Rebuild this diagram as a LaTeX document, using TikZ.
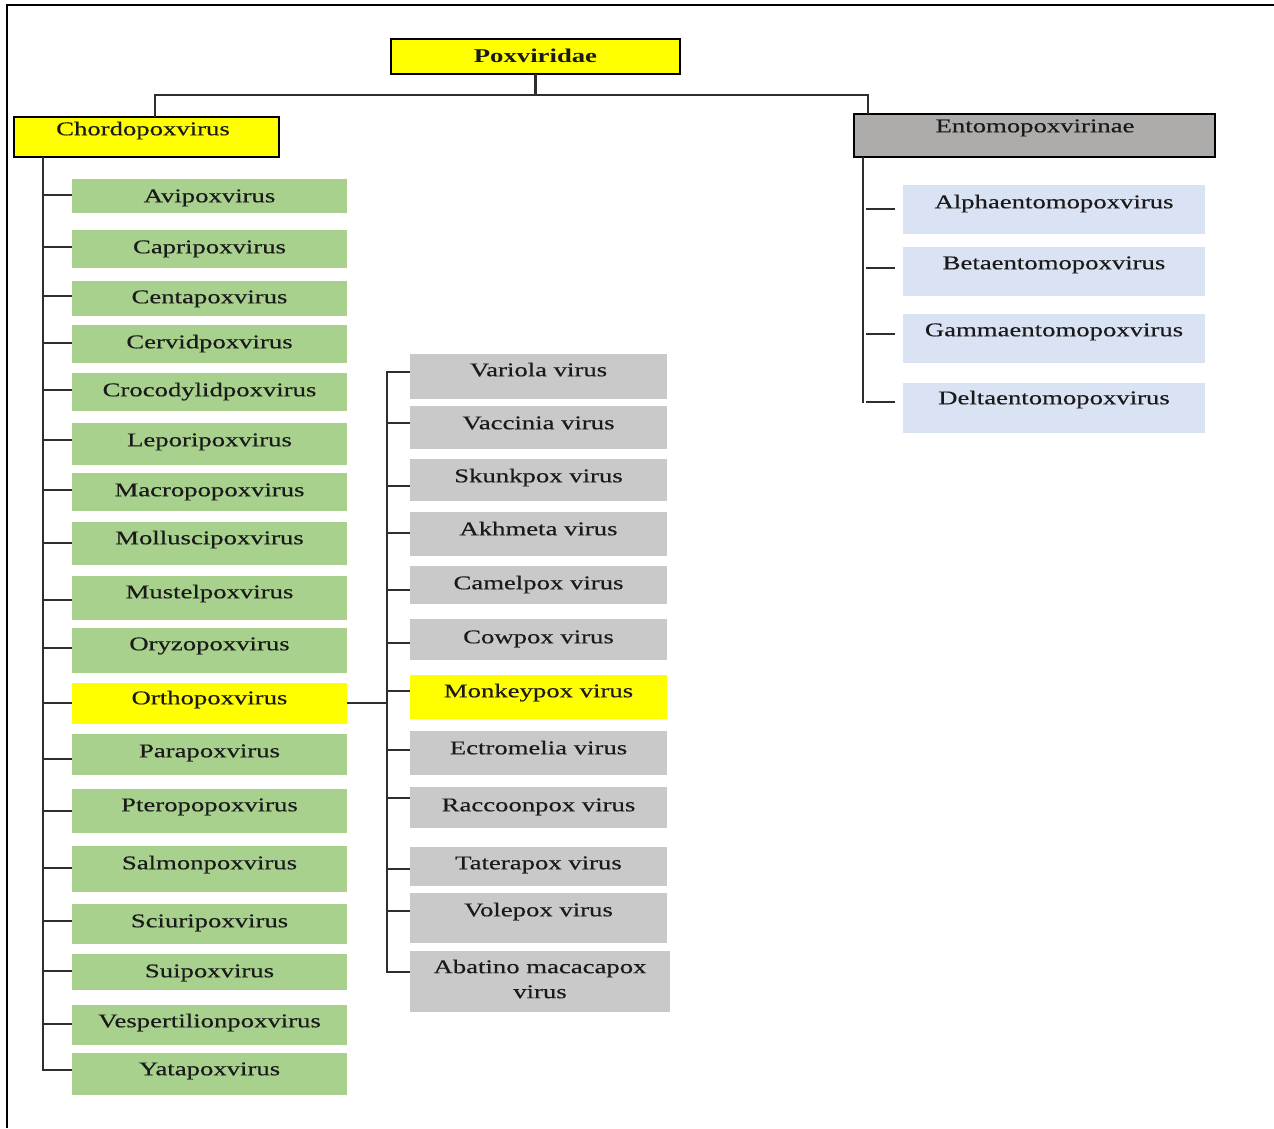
\documentclass[tikz,border=0pt]{standalone}
\usepackage{fontspec}
\setmainfont{Liberation Serif}[FakeStretch=1.37]
\definecolor{gfill}{HTML}{A9D18E}
\definecolor{grfill}{HTML}{C9C9C9}
\definecolor{bfill}{HTML}{DAE3F3}
\definecolor{efill}{HTML}{AEABAB}
\definecolor{yfill}{HTML}{FFFF00}
\definecolor{lncol}{HTML}{2E2E2E}
\definecolor{txt}{HTML}{1A1A1A}
\begin{document}
\begin{tikzpicture}[x=1pt,y=-1pt,
  box/.style={rectangle, inner sep=0pt, outer sep=0pt},
  hbox/.style={box, draw=black, line width=2pt},
  lbl/.style={anchor=mid, yshift=-5pt, inner sep=0pt, text=txt, font=\fontsize{19.5}{25}\selectfont\addfontfeature{FakeBold=0.4}},
  conn/.style={draw=lncol, line width=2.2pt}]
\useasboundingbox (0,0) rectangle (1274,1128);
\fill[white] (0,0) rectangle (1274,1128);
% frame
\draw[black, line width=2pt] (7,1128) -- (7,5) -- (1274,5);
% top level
\node[hbox, fill=yfill, minimum width=289, minimum height=35] (pox) at (535.5,56.5) {};
\node[lbl, font=\fontsize{19.5}{25}\selectfont\bfseries] (poxt) at (535.5,55) {Poxviridae};
\node[hbox, fill=yfill, minimum width=265, minimum height=40] (chordo) at (146.5,137) {};
\node[lbl] (chordot) at (143,128) {Chordopoxvirus};
\node[hbox, fill=efill, minimum width=361, minimum height=43] (ento) at (1034.5,135.5) {};
\node[lbl] (entot) at (1035,125) {Entomopoxvirinae};
\draw[conn] (pox.south) -- ++(0,21) coordinate (j);
\draw[conn] (chordo.north -| 155,0) |- (j) -| (ento.north -| 868,0);
% Chordopoxvirus genera
\draw[conn] (chordo.south -| 43,0) -- (43,1071);
\foreach \n/\ya/\yb/\ty/\by/\c/\l in {
 avi/179/213/195/195/gfill/Avipoxvirus,
 cap/230/268/246/247/gfill/Capripoxvirus,
 cen/281/316/296/296/gfill/Centapoxvirus,
 cer/325/363/341/343/gfill/Cervidpoxvirus,
 cro/373/411/389/390/gfill/Crocodylidpoxvirus,
 lep/423/465/439/440/gfill/Leporipoxvirus,
 mac/473/511/489/490/gfill/Macropopoxvirus,
 mol/522/565/537/543/gfill/Molluscipoxvirus,
 mus/576/620/591/600/gfill/Mustelpoxvirus,
 ory/628/673/643/648/gfill/Oryzopoxvirus,
 ort/683/724/697/703/yfill/Orthopoxvirus,
 par/734/775/750/759/gfill/Parapoxvirus,
 pte/789/833/804/811/gfill/Pteropopoxvirus,
 sal/846/892/862/868/gfill/Salmonpoxvirus,
 sci/904/944/920/921/gfill/Sciuripoxvirus,
 sui/954/990/970/971/gfill/Suipoxvirus,
 ves/1005/1045/1020/1024/gfill/Vespertilionpoxvirus,
 yat/1053/1095/1068/1070/gfill/Yatapoxvirus}{
 \node[box, fill=\c, minimum width=275, minimum height={\yb-\ya}] (\n) at (209.5,{(\ya+\yb)/2}) {};
 \node[lbl] (\n t) at (209.5,\ty) {\l};
 \draw[conn] (42,\by) -- (\n.west |- 0,\by);
}
% Orthopoxvirus species
\draw[conn] (ort.east |- 0,703) -- (388,703);
\draw[conn] (387,371) -- (387,973);
\foreach \n/\ya/\yb/\ty/\by/\c/\l in {
 var/354/399/369/372/grfill/Variola virus,
 vac/406/449/422/423/grfill/Vaccinia virus,
 sku/459/501/475/486/grfill/Skunkpox virus,
 akh/512/556/528/533/grfill/Akhmeta virus,
 cam/566/604/582/590/grfill/Camelpox virus,
 cow/619/660/636/643/grfill/Cowpox virus,
 mon/675/719/690/691/yfill/Monkeypox virus,
 ect/731/775/747/750/grfill/Ectromelia virus,
 rac/787/828/804/798/grfill/Raccoonpox virus,
 tat/847/886/862/869/grfill/Taterapox virus,
 vol/893/943/909/911/grfill/Volepox virus}{
 \node[box, fill=\c, minimum width=257, minimum height={\yb-\ya}] (\n) at (538.5,{(\ya+\yb)/2}) {};
 \node[lbl] (\n t) at (538.5,\ty) {\l};
 \draw[conn] (386,\by) -- (\n.west |- 0,\by);
}
\node[box, fill=grfill, minimum width=260, minimum height=61] (aba) at (540,981.5) {};
\node[lbl, anchor=center, align=center] (abat) at (540,974) {Abatino macacapox\\virus};
\draw[conn] (386,972) -- (aba.west |- 0,972);
% Entomopoxvirinae genera
\draw[conn] (ento.south -| 863,0) -- (863,403);
\foreach \n/\ya/\yb/\ty/\by/\l in {
 alp/185/234/201/209/Alphaentomopoxvirus,
 bet/247/296/262/268/Betaentomopoxvirus,
 gam/314/363/329/334/Gammaentomopoxvirus,
 del/383/433/397/402/Deltaentomopoxvirus}{
 \node[box, fill=bfill, minimum width=302, minimum height={\yb-\ya}] (\n) at (1054,{(\ya+\yb)/2}) {};
 \node[lbl] (\n t) at (1054,\ty) {\l};
 \draw[conn] (866,\by) -- ([xshift=-8pt]\n.west |- 0,\by);
}
\end{tikzpicture}
\end{document}
